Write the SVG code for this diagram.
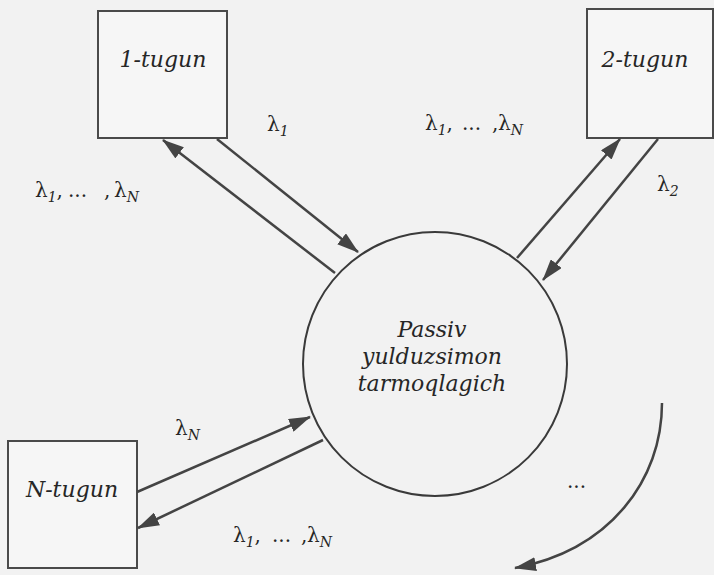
<svg xmlns="http://www.w3.org/2000/svg" width="714" height="575" viewBox="0 0 714 575">
  <style>
    .box { fill: #f6f6f6; stroke: #4a4a4a; stroke-width: 2; }
    .hub { fill: none; stroke: #3a3a3a; stroke-width: 2; }
    .conn { fill: none; stroke: #444; stroke-width: 2.5; }
    text { font-family: 'DejaVu Serif', serif; fill: #262626; }
    .node { font-style: italic; font-size: 22px; text-anchor: middle; }
    .lam { font-size: 20px; }
    .sub { font-style: italic; font-size: 14px; }
  </style>
  <defs>
    <marker id="ah" viewBox="0 0 22 14" markerWidth="22" markerHeight="14" refX="21" refY="7" orient="auto" markerUnits="userSpaceOnUse">
      <path d="M0,0 L22,7 L0,14 z" fill="#444"/>
    </marker>
  </defs>
  <rect x="0" y="0" width="714" height="575" fill="#f2f2f2"/>

  <g id="hub">
    <circle class="hub" cx="435" cy="364" r="132"/>
    <text class="node" x="432" y="337">Passiv</text>
    <text class="node" x="432" y="364">yulduzsimon</text>
    <text class="node" x="432" y="391">tarmoqlagich</text>
  </g>

  <g id="node1">
    <rect class="box" x="98" y="11" width="129" height="127"/>
    <text class="node" x="163" y="67">1-tugun</text>
  </g>

  <g id="node2">
    <rect class="box" x="587" y="9" width="126" height="129"/>
    <text class="node" x="645" y="67">2-tugun</text>
  </g>

  <g id="nodeN">
    <rect class="box" x="8" y="441" width="129" height="127"/>
    <text class="node" x="72" y="497">N-tugun</text>
  </g>

  <g id="connectors">
    <line class="conn" x1="335" y1="273" x2="163" y2="140" marker-end="url(#ah)"/>
    <line class="conn" x1="217" y1="139" x2="358" y2="252" marker-end="url(#ah)"/>
    <line class="conn" x1="517" y1="258" x2="620" y2="139" marker-end="url(#ah)"/>
    <line class="conn" x1="658" y1="139" x2="543" y2="280" marker-end="url(#ah)"/>
    <line class="conn" x1="137" y1="492" x2="310" y2="417" marker-end="url(#ah)"/>
    <line class="conn" x1="323" y1="440" x2="138" y2="528" marker-end="url(#ah)"/>
    <path class="conn" d="M662,403 C662,480 610,550 515,568" marker-end="url(#ah)"/>
  </g>

  <g id="labels">
    <text class="lam" x="35" y="197">λ<tspan class="sub" dy="5">1</tspan><tspan dy="-5">,</tspan><tspan x="68">...</tspan><tspan x="104">,</tspan><tspan x="114">λ</tspan><tspan class="sub" dy="5">N</tspan></text>
    <text class="lam" x="267" y="131">λ<tspan class="sub" dy="5">1</tspan></text>
    <text class="lam" x="425" y="130">λ<tspan class="sub" dy="5">1</tspan><tspan dy="-5">,</tspan><tspan x="462">...</tspan><tspan x="492">,</tspan><tspan x="498">λ</tspan><tspan class="sub" dy="5">N</tspan></text>
    <text class="lam" x="657" y="191">λ<tspan class="sub" dy="5">2</tspan></text>
    <text class="lam" x="175" y="435">λ<tspan class="sub" dy="5">N</tspan></text>
    <text class="lam" x="233" y="542">λ<tspan class="sub" dy="5">1</tspan><tspan dy="-5">,</tspan><tspan x="272">...</tspan><tspan x="301">,</tspan><tspan x="307">λ</tspan><tspan class="sub" dy="5">N</tspan></text>
    <text class="lam" x="567" y="488">...</text>
  </g>
</svg>
